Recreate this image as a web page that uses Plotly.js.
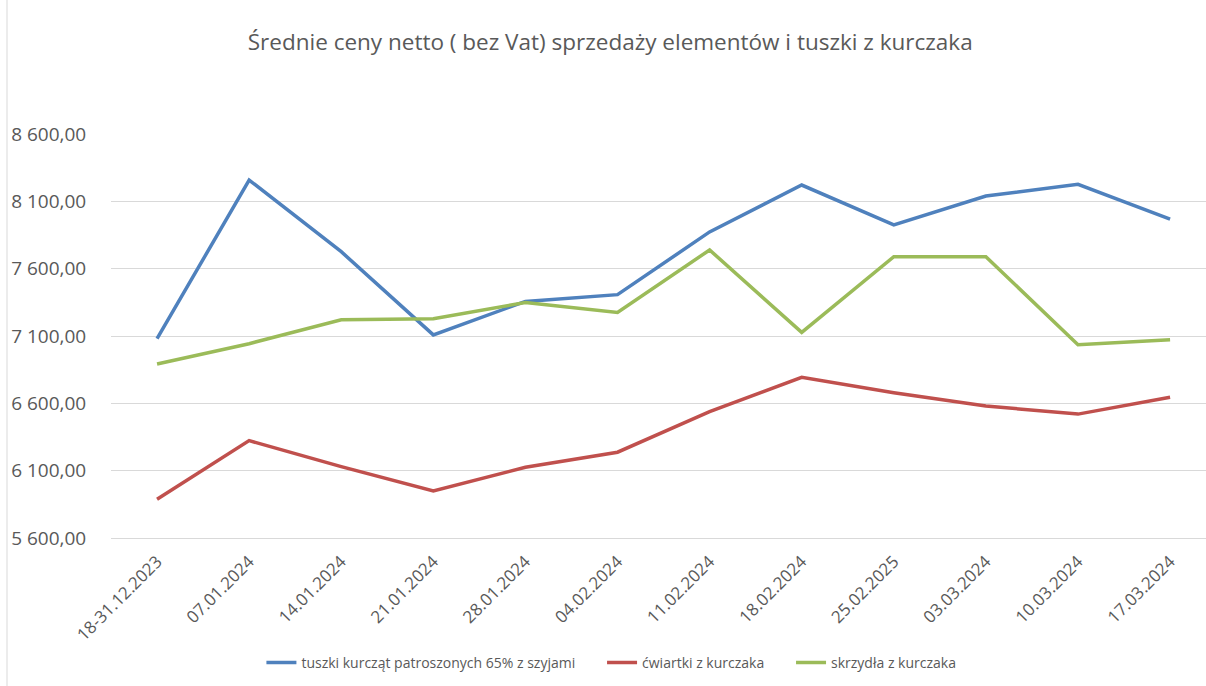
<!DOCTYPE html>
<html>
<head>
<meta charset="utf-8">
<script src="https://cdn.plot.ly/plotly-3.0.1.min.js"></script>
<style>html,body{margin:0;padding:0;background:#fff;}#chart{width:1206px;height:686px;}</style>
</head>
<body>
<div id="chart"></div>
<script>
const categories = ["18-31.12.2023","07.01.2024","14.01.2024","21.01.2024","28.01.2024","04.02.2024","11.02.2024","18.02.2024","25.02.2025","03.03.2024","10.03.2024","17.03.2024"];
const seriesNames = ["tuszki kurcząt patroszonych 65% z szyjami","ćwiartki z kurczaka","skrzydła z kurczaka"];
const tuszki = [7080, 8258, 7726, 7108, 7357, 7407, 7873, 8221, 7925, 8139, 8226, 7968];
const cwiartki = [5887, 6323, 6130, 5949, 6125, 6237, 6538, 6793, 6679, 6580, 6520, 6645];
const skrzydla = [6892, 7043, 7221, 7229, 7349, 7275, 7739, 7127, 7689, 7689, 7035, 7072];
const colors = ["#4F81BD","#C0504D","#9BBB59"];

const FONT = "Open Sans, Lato, sans-serif";
const PAD = "\u00a0\u00a0\u00a0\u00a0\u00a0\u00a0";
const idx = categories.map((c,i)=>i);
const data = [tuszki, cwiartki, skrzydla].map((ys,k)=>({
  type:"scatter", mode:"lines", x: idx, y: ys, name: seriesNames[k] + (k < 2 ? PAD : ""),
  line:{color: colors[k], width: 3.5}, hoverinfo:"skip"
}));

const layout = {
  width:1206, height:686,
  margin:{l:111, r:0, t:134, b:148},
  paper_bgcolor:"#fff", plot_bgcolor:"#fff",
  separators:", ",
  font:{family:FONT, color:"#595959"},
  title:{text:"Średnie ceny netto ( bez Vat) sprzedaży elementów i tuszki z kurczaka",
         font:{family:FONT, size:22.5, color:"#595959"},
         x:0.506, xanchor:"center", xref:"container", y:0.938, yref:"container", yanchor:"middle"},
  xaxis:{range:[-0.5, 11.39], tickmode:"array", tickvals: idx, ticktext: categories,
         tickangle:-45, showgrid:false, zeroline:false, showline:true, linecolor:"#d9d9d9", linewidth:1,
         ticks:"outside", ticklen:6, tickcolor:"rgba(0,0,0,0)",
         tickfont:{family:FONT, size:17, color:"#595959"}, fixedrange:true},
  yaxis:{range:[5600, 8600], tick0:5600, dtick:500, tickformat:",.2f",
         showgrid:true, gridcolor:"#d9d9d9", gridwidth:1, zeroline:false, showline:false,
         ticks:"outside", ticklen:20, tickcolor:"rgba(0,0,0,0)",
         tickfont:{family:FONT, size:19, color:"#595959"}, fixedrange:true},
  showlegend:true,
  legend:{orientation:"h", x:0.457, xanchor:"center", y:-0.309, yanchor:"middle",
          font:{family:FONT, size:14, color:"#595959"}, bgcolor:"rgba(0,0,0,0)"},
  shapes:[{type:"line", xref:"paper", yref:"paper", x0:(7-111)/1095, x1:(7-111)/1095, y0:-148/404, y1:(538)/404, line:{color:"#d9d9d9", width:1}}]
};
Plotly.newPlot("chart", data, layout, {displayModeBar:false, staticPlot:true});
</script>
</body>
</html>
